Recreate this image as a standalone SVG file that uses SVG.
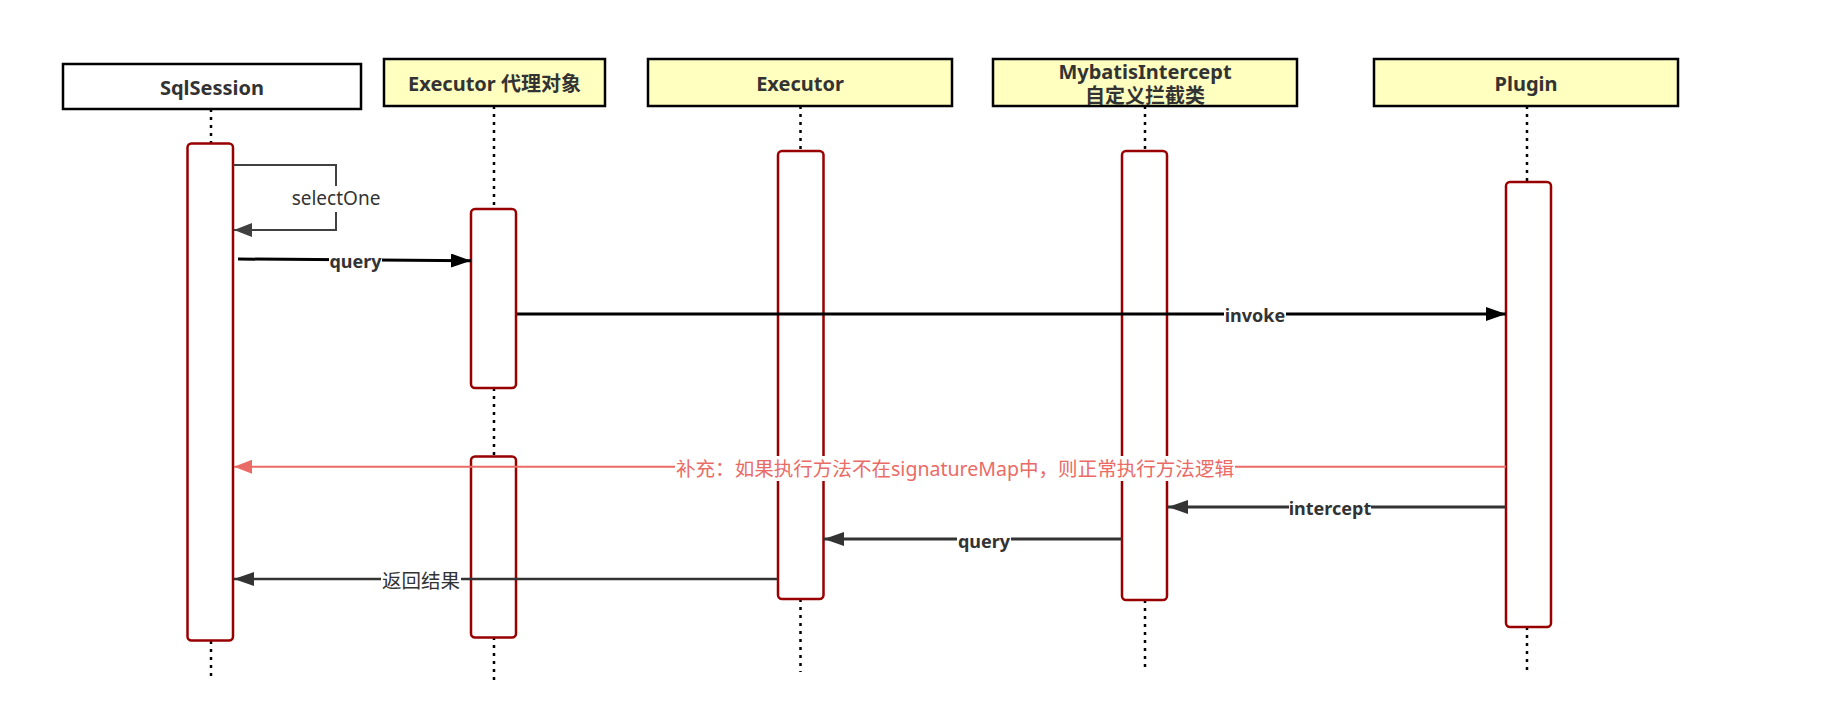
<svg xmlns="http://www.w3.org/2000/svg" width="1827" height="713" viewBox="0 0 1827 713">
<style>
text{font-family:'Noto Sans','Noto Sans CJK SC',sans-serif;text-anchor:middle;dominant-baseline:central}
.head{stroke:#000;stroke-width:2.5;fill:#ffffc0}
.title{font-size:20px;font-weight:bold;fill:#333}
.life{stroke:#000;stroke-width:2.5;stroke-dasharray:3 5;fill:none}
.act{stroke:#990000;stroke-width:2.5;fill:#fff}
.lbl{font-size:18px;font-weight:bold;fill:#333}
.bg{fill:#fff}
.k{stroke:#000;stroke-width:3;fill:none}
.g{stroke:#333;stroke-width:3;fill:none}
</style>
<defs>
<marker id="ak" markerUnits="userSpaceOnUse" markerWidth="22" markerHeight="16" refX="20" refY="7" orient="auto"><path d="M0,0 L20,7 L0,14 Z" fill="#000"/></marker>
<marker id="ag" markerUnits="userSpaceOnUse" markerWidth="22" markerHeight="16" refX="20" refY="7" orient="auto"><path d="M0,0 L20,7 L0,14 Z" fill="#333"/></marker>
<marker id="as" markerUnits="userSpaceOnUse" markerWidth="20" markerHeight="16" refX="18" refY="7" orient="auto"><path d="M0,0 L18,7 L0,14 Z" fill="#404040"/></marker>
<marker id="ar" markerUnits="userSpaceOnUse" markerWidth="20" markerHeight="16" refX="18" refY="7" orient="auto"><path d="M0,0 L18,7 L0,14 Z" fill="#ea6b66"/></marker>
</defs>
<rect width="1827" height="713" fill="#fff"/>

<g id="sqlsession">
<rect x="63" y="64" width="298" height="45" class="head" style="fill:#fff"/>
<text x="212" y="87" class="title">SqlSession</text>
<path d="M211,109 V143 M211,641 V676" class="life"/>
<rect x="187.5" y="143.5" width="45.5" height="497" rx="4" class="act"/>
</g>

<g id="executor-proxy">
<rect x="384" y="59" width="221" height="47" class="head"/>
<text x="494.5" y="83" class="title">Executor 代理对象</text>
<path d="M494,106 V209 M494,388 V456 M494,637 V684" class="life"/>
<rect x="471" y="209" width="45" height="179" rx="4" class="act"/>
<rect x="471" y="456.5" width="45" height="181" rx="4" class="act"/>
</g>

<g id="executor">
<rect x="648" y="59" width="304" height="47" class="head"/>
<text x="800" y="83" class="title">Executor</text>
<path d="M800.5,106 V151 M800.5,599 V672" class="life"/>
<rect x="778" y="151" width="45.5" height="448" rx="4" class="act"/>
</g>

<g id="mybatisintercept">
<rect x="993" y="59" width="304" height="47" class="head"/>
<text x="1145" y="71" class="title">MybatisIntercept</text>
<text x="1145" y="95" class="title">自定义拦截类</text>
<path d="M1145,106 V151 M1145,600 V672" class="life"/>
<rect x="1122" y="151" width="45" height="449" rx="4" class="act"/>
</g>

<g id="plugin">
<rect x="1374" y="59" width="304" height="47" class="head"/>
<text x="1526" y="83" class="title">Plugin</text>
<path d="M1527,106 V182 M1527,627 V672" class="life"/>
<rect x="1506" y="182" width="45" height="445" rx="4" class="act"/>
</g>

<g id="connectors">
<path d="M233,165 H336 V230 H234" stroke="#404040" stroke-width="2" fill="none" marker-end="url(#as)"/>
<rect x="290" y="186" width="92" height="26" class="bg"/>
<text x="336" y="198" font-size="19" fill="#333">selectOne</text>

<path d="M238,259 L471,260.7" class="k" marker-end="url(#ak)"/>
<rect x="329" y="249" width="53" height="24" class="bg"/>
<text x="355.5" y="261" class="lbl">query</text>

<path d="M517,314 L1506,314" class="k" marker-end="url(#ak)"/>
<rect x="1224" y="303" width="62" height="24" class="bg"/>
<text x="1255" y="315" class="lbl">invoke</text>

<path d="M1506,466.7 L234,466.7" stroke="#ea6b66" stroke-width="2" fill="none" marker-end="url(#ar)"/>
<rect x="675" y="456" width="560" height="25" class="bg"/>
<text x="955" y="468.5" font-size="19.5" fill="#ea6b66" textLength="558" lengthAdjust="spacingAndGlyphs">补充：如果执行方法不在signatureMap中，则正常执行方法逻辑</text>

<path d="M1506,507 L1168,507" class="g" marker-end="url(#ag)"/>
<rect x="1289" y="496" width="82" height="24" class="bg"/>
<text x="1330" y="508" class="lbl">intercept</text>

<path d="M1122,539 L824,539" class="g" marker-end="url(#ag)"/>
<rect x="957" y="529" width="54" height="24" class="bg"/>
<text x="984" y="541" class="lbl">query</text>

<path d="M778,579 L234,579" stroke="#333" stroke-width="2.5" fill="none" marker-end="url(#ag)"/>
<rect x="381" y="569" width="80" height="24" class="bg"/>
<text x="421" y="580" font-size="19.5" fill="#333">返回结果</text>
</g>
</svg>
